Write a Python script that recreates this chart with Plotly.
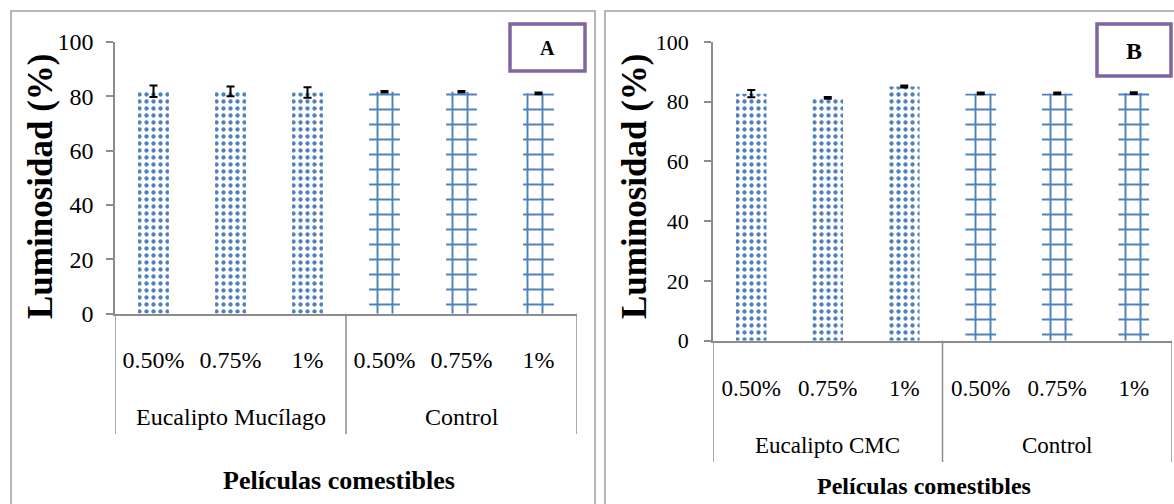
import plotly.graph_objects as go

W, H = 1174, 504

# ---- data ----
levels = ["0.50%", "0.75%", "1%"]

groups_a = ["Eucalipto Mucílago", "Control"]
lum_a_treat = [81.9, 81.8, 81.4]
err_a_treat = [2.1, 1.8, 1.9]
lum_a_ctrl = [81.7, 81.7, 81.1]
err_a_ctrl = [0.3, 0.3, 0.3]

groups_b = ["Eucalipto CMC", "Control"]
lum_b_treat = [82.7, 81.3, 85.1]
err_b_treat = [1.2, 0.3, 0.3]
lum_b_ctrl = [82.8, 82.8, 82.9]
err_b_ctrl = [0.3, 0.3, 0.3]

y_ticks = [0, 20, 40, 60, 80, 100]

BLUE = "#4F81BD"
GRAY = "#8C8C8C"
PURPLE = "#8064A2"
SERIF = "Liberation Serif, Times New Roman, serif"


def fx(p):
    return p / W


def fy(p):
    return 1 - p / H


dot_fill = dict(color="white", opacity=1, line=dict(width=0),
                pattern=dict(shape=".", fgcolor=BLUE, bgcolor="white",
                             fgopacity=1, size=7, solidity=0.3))
grid_fill = dict(color="white", opacity=1, line=dict(width=0),
                 pattern=dict(shape="+", fgcolor=BLUE, bgcolor="white",
                              fgopacity=1, size=15, solidity=0.24))

fig = go.Figure()

panels = [
    dict(xa="x", ya="y", groups=groups_a,
         treat=lum_a_treat, terr=err_a_treat, ctrl=lum_a_ctrl, cerr=err_a_ctrl,
         xdom=[fx(115), fx(577)], ydom=[fy(313.7), fy(42)],
         tick_font=24, ytick_font=24, ystand=8, xstand=24,
         group_y=417, div_bottom=434, title_xy=(339, 480), title_size=26,
         ytitle_xy=(40, 186), frame=(11, 595), tag="A",
         tag_box=(510, 24, 585, 71), tag_size=20),
    dict(xa="x2", ya="y2", groups=groups_b,
         treat=lum_b_treat, terr=err_b_treat, ctrl=lum_b_ctrl, cerr=err_b_ctrl,
         xdom=[fx(713), fx(1172)], ydom=[fy(340.7), fy(42)],
         tick_font=23, ytick_font=22, ystand=11, xstand=26,
         group_y=445, div_bottom=462, title_xy=(924, 486), title_size=24,
         ytitle_xy=(634, 186), frame=(605, 1180), tag="B",
         tag_box=(1097, 24, 1171, 76), tag_size=24),
]

shapes = []
annotations = []

for i, p in enumerate(panels):
    n = len(levels)
    xs_t = list(range(n))
    xs_c = list(range(n, 2 * n))
    fig.add_trace(go.Bar(
        x=xs_t, y=p["treat"], width=0.4, marker=dot_fill,
        error_y=dict(type="data", array=p["terr"], color="black",
                     thickness=2, width=4),
        xaxis=p["xa"], yaxis=p["ya"], showlegend=False))
    fig.add_trace(go.Bar(
        x=xs_c, y=p["ctrl"], width=0.4, marker=grid_fill,
        error_y=dict(type="data", array=p["cerr"], color="black",
                     thickness=2, width=4),
        xaxis=p["xa"], yaxis=p["ya"], showlegend=False))

    suffix = "" if i == 0 else "2"
    fig.update_layout({
        f"xaxis{suffix}": dict(
            domain=p["xdom"], range=[-0.5, 2 * n - 0.5], anchor=p["ya"],
            tickmode="array", tickvals=list(range(2 * n)), ticktext=levels * 2,
            showline=True, linecolor=GRAY, linewidth=1.5, showgrid=False,
            zeroline=False, ticks="", ticklabelstandoff=p["xstand"],
            automargin=False,
            tickfont=dict(family=SERIF, size=p["tick_font"], color="black"),
            fixedrange=True),
        f"yaxis{suffix}": dict(
            domain=p["ydom"], range=[0, 100], anchor=p["xa"],
            tickmode="array", tickvals=y_ticks,
            showline=True, linecolor=GRAY, linewidth=1.5, showgrid=False,
            zeroline=False, ticks="outside", ticklen=7, tickcolor=GRAY,
            tickwidth=1.5, ticklabelstandoff=p["ystand"],
            automargin=False,
            tickfont=dict(family=SERIF, size=p["ytick_font"], color="black"),
            fixedrange=True),
    })

    # group separators below the category axis
    xref = p["xa"]
    for b in [-0.5, n - 0.5, 2 * n - 0.5]:
        shapes.append(dict(type="line", xref=xref, yref="paper",
                           x0=b, x1=b, y0=p["ydom"][0], y1=fy(p["div_bottom"]),
                           line=dict(color=GRAY, width=1.5)))
    # group labels
    for g, name in enumerate(p["groups"]):
        annotations.append(dict(
            text=name, xref=xref, yref="paper", x=g * n + (n - 1) / 2,
            y=fy(p["group_y"]), showarrow=False, xanchor="center",
            yanchor="middle",
            font=dict(family=SERIF, size=p["tick_font"], color="black")))
    # axis titles
    tx, ty = p["title_xy"]
    annotations.append(dict(
        text="<b>Películas comestibles</b>", xref="paper", yref="paper",
        x=fx(tx), y=fy(ty), showarrow=False, xanchor="center", yanchor="middle",
        font=dict(family=SERIF, size=p["title_size"], color="black")))
    yx, yy = p["ytitle_xy"]
    annotations.append(dict(
        text="<b>Luminosidad (%)</b>", xref="paper", yref="paper",
        x=fx(yx), y=fy(yy), showarrow=False, textangle=-90,
        xanchor="center", yanchor="middle",
        font=dict(family=SERIF, size=35, color="black")))
    # panel frame
    fl, fr = p["frame"]
    shapes.append(dict(type="rect", xref="paper", yref="paper",
                       x0=fx(fl), x1=fx(fr), y0=fy(520), y1=fy(11),
                       line=dict(color="#A0A0A0", width=1.5), layer="below"))
    # panel tag box
    bx0, by0, bx1, by1 = p["tag_box"]
    shapes.append(dict(type="rect", xref="paper", yref="paper",
                       x0=fx(bx0), x1=fx(bx1), y0=fy(by1), y1=fy(by0),
                       line=dict(color=PURPLE, width=3.5),
                       fillcolor="white"))
    annotations.append(dict(
        text=f"<b>{p['tag']}</b>", xref="paper", yref="paper",
        x=fx((bx0 + bx1) / 2), y=fy((by0 + by1) / 2 + 1), showarrow=False,
        xanchor="center", yanchor="middle",
        font=dict(family=SERIF, size=p["tag_size"], color="black")))

fig.update_layout(
    width=W, height=H,
    margin=dict(l=0, r=0, t=0, b=0, pad=0, autoexpand=False),
    paper_bgcolor="white", plot_bgcolor="white",
    barmode="overlay", shapes=shapes, annotations=annotations,
)

fig.write_html("out.html", config={"displayModeBar": False})
